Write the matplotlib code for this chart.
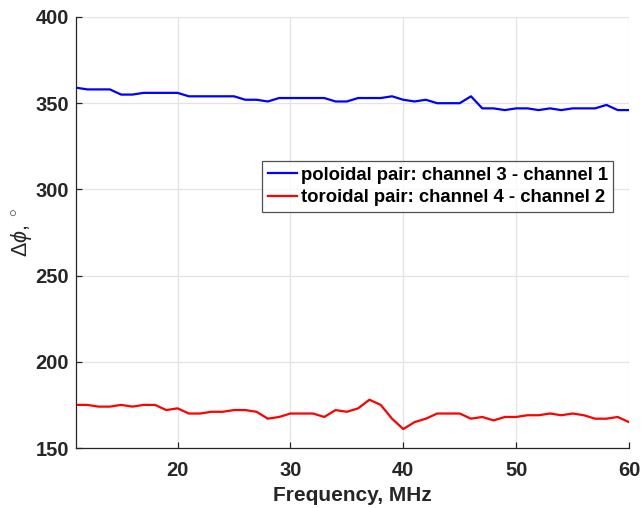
import matplotlib
matplotlib.use("Agg")
import matplotlib.pyplot as plt
import numpy as np

freq = list(range(11, 61))
poloidal = [359, 358, 358, 358, 355, 355, 356, 356, 356, 356,
            354, 354, 354, 354, 354, 352, 352, 351, 353, 353,
            353, 353, 353, 351, 351, 353, 353, 353, 354, 352,
            351, 352, 350, 350, 350, 354, 347, 347, 346, 347,
            347, 346, 347, 346, 347, 347, 347, 349, 346, 346]
toroidal = [175, 175, 174, 174, 175, 174, 175, 175, 172, 173,
            170, 170, 171, 171, 172, 172, 171, 167, 168, 170,
            170, 170, 168, 172, 171, 173, 178, 175, 167, 161,
            165, 167, 170, 170, 170, 167, 168, 166, 168, 168,
            169, 169, 170, 169, 170, 169, 167, 167, 168, 165]
labels = ["poloidal pair: channel 3 - channel 1",
          "toroidal pair: channel 4 - channel 2"]
xticks = [20, 30, 40, 50, 60]
yticks = [150, 200, 250, 300, 350, 400]

plt.rcParams['font.family'] = ['Liberation Sans', 'DejaVu Sans']
plt.rcParams['mathtext.fontset'] = 'custom'
plt.rcParams['mathtext.rm'] = 'Liberation Sans'
plt.rcParams['mathtext.it'] = 'Liberation Sans:italic'

fig = plt.figure(figsize=(6.41, 5.08), dpi=100)
ax = fig.add_axes([76/641, 1-448/508, (629-76)/641, (448-17)/508])
ax.plot(freq, poloidal, color='#0000ff', lw=1.6, label=labels[0])
ax.plot(freq, toroidal, color='#ff0000', lw=1.6, label=labels[1])
ax.set_xlim(11, 60)
ax.set_ylim(150, 400)
ax.set_xticks(xticks)
ax.set_yticks(yticks)
ax.grid(True, color='#e3e3e3', lw=0.9)
ax.set_axisbelow(True)
for s in ['top', 'right']:
    ax.spines[s].set_visible(False)
for s in ['left', 'bottom']:
    ax.spines[s].set_color('#262626')
    ax.spines[s].set_linewidth(0.9)
ax.tick_params(direction='in', length=4, width=0.9, colors='#262626', labelsize=14.5)
ax.tick_params(axis='x', pad=9)
ax.tick_params(axis='y', pad=5)
for t in ax.get_xticklabels() + ax.get_yticklabels():
    t.set_fontweight('bold')
ax.set_xlabel('Frequency, MHz', fontsize=15, fontweight='bold', color='#262626', labelpad=5)
ax.set_ylabel(r'$\Delta\mathit{\phi}$, $^\circ$', fontsize=15.5, color='#262626', labelpad=1)
leg = ax.legend(loc='upper left', bbox_to_anchor=((262-76)/553, 1-(161-17)/431),
                prop={'weight': 'bold', 'size': 13.3}, frameon=True, fancybox=False,
                edgecolor='#262626', handlelength=1.6, handletextpad=0.2,
                borderpad=0.3, labelspacing=0.3, borderaxespad=0)
leg.get_frame().set_linewidth(0.9)
fig.savefig('out.png', dpi=100)
